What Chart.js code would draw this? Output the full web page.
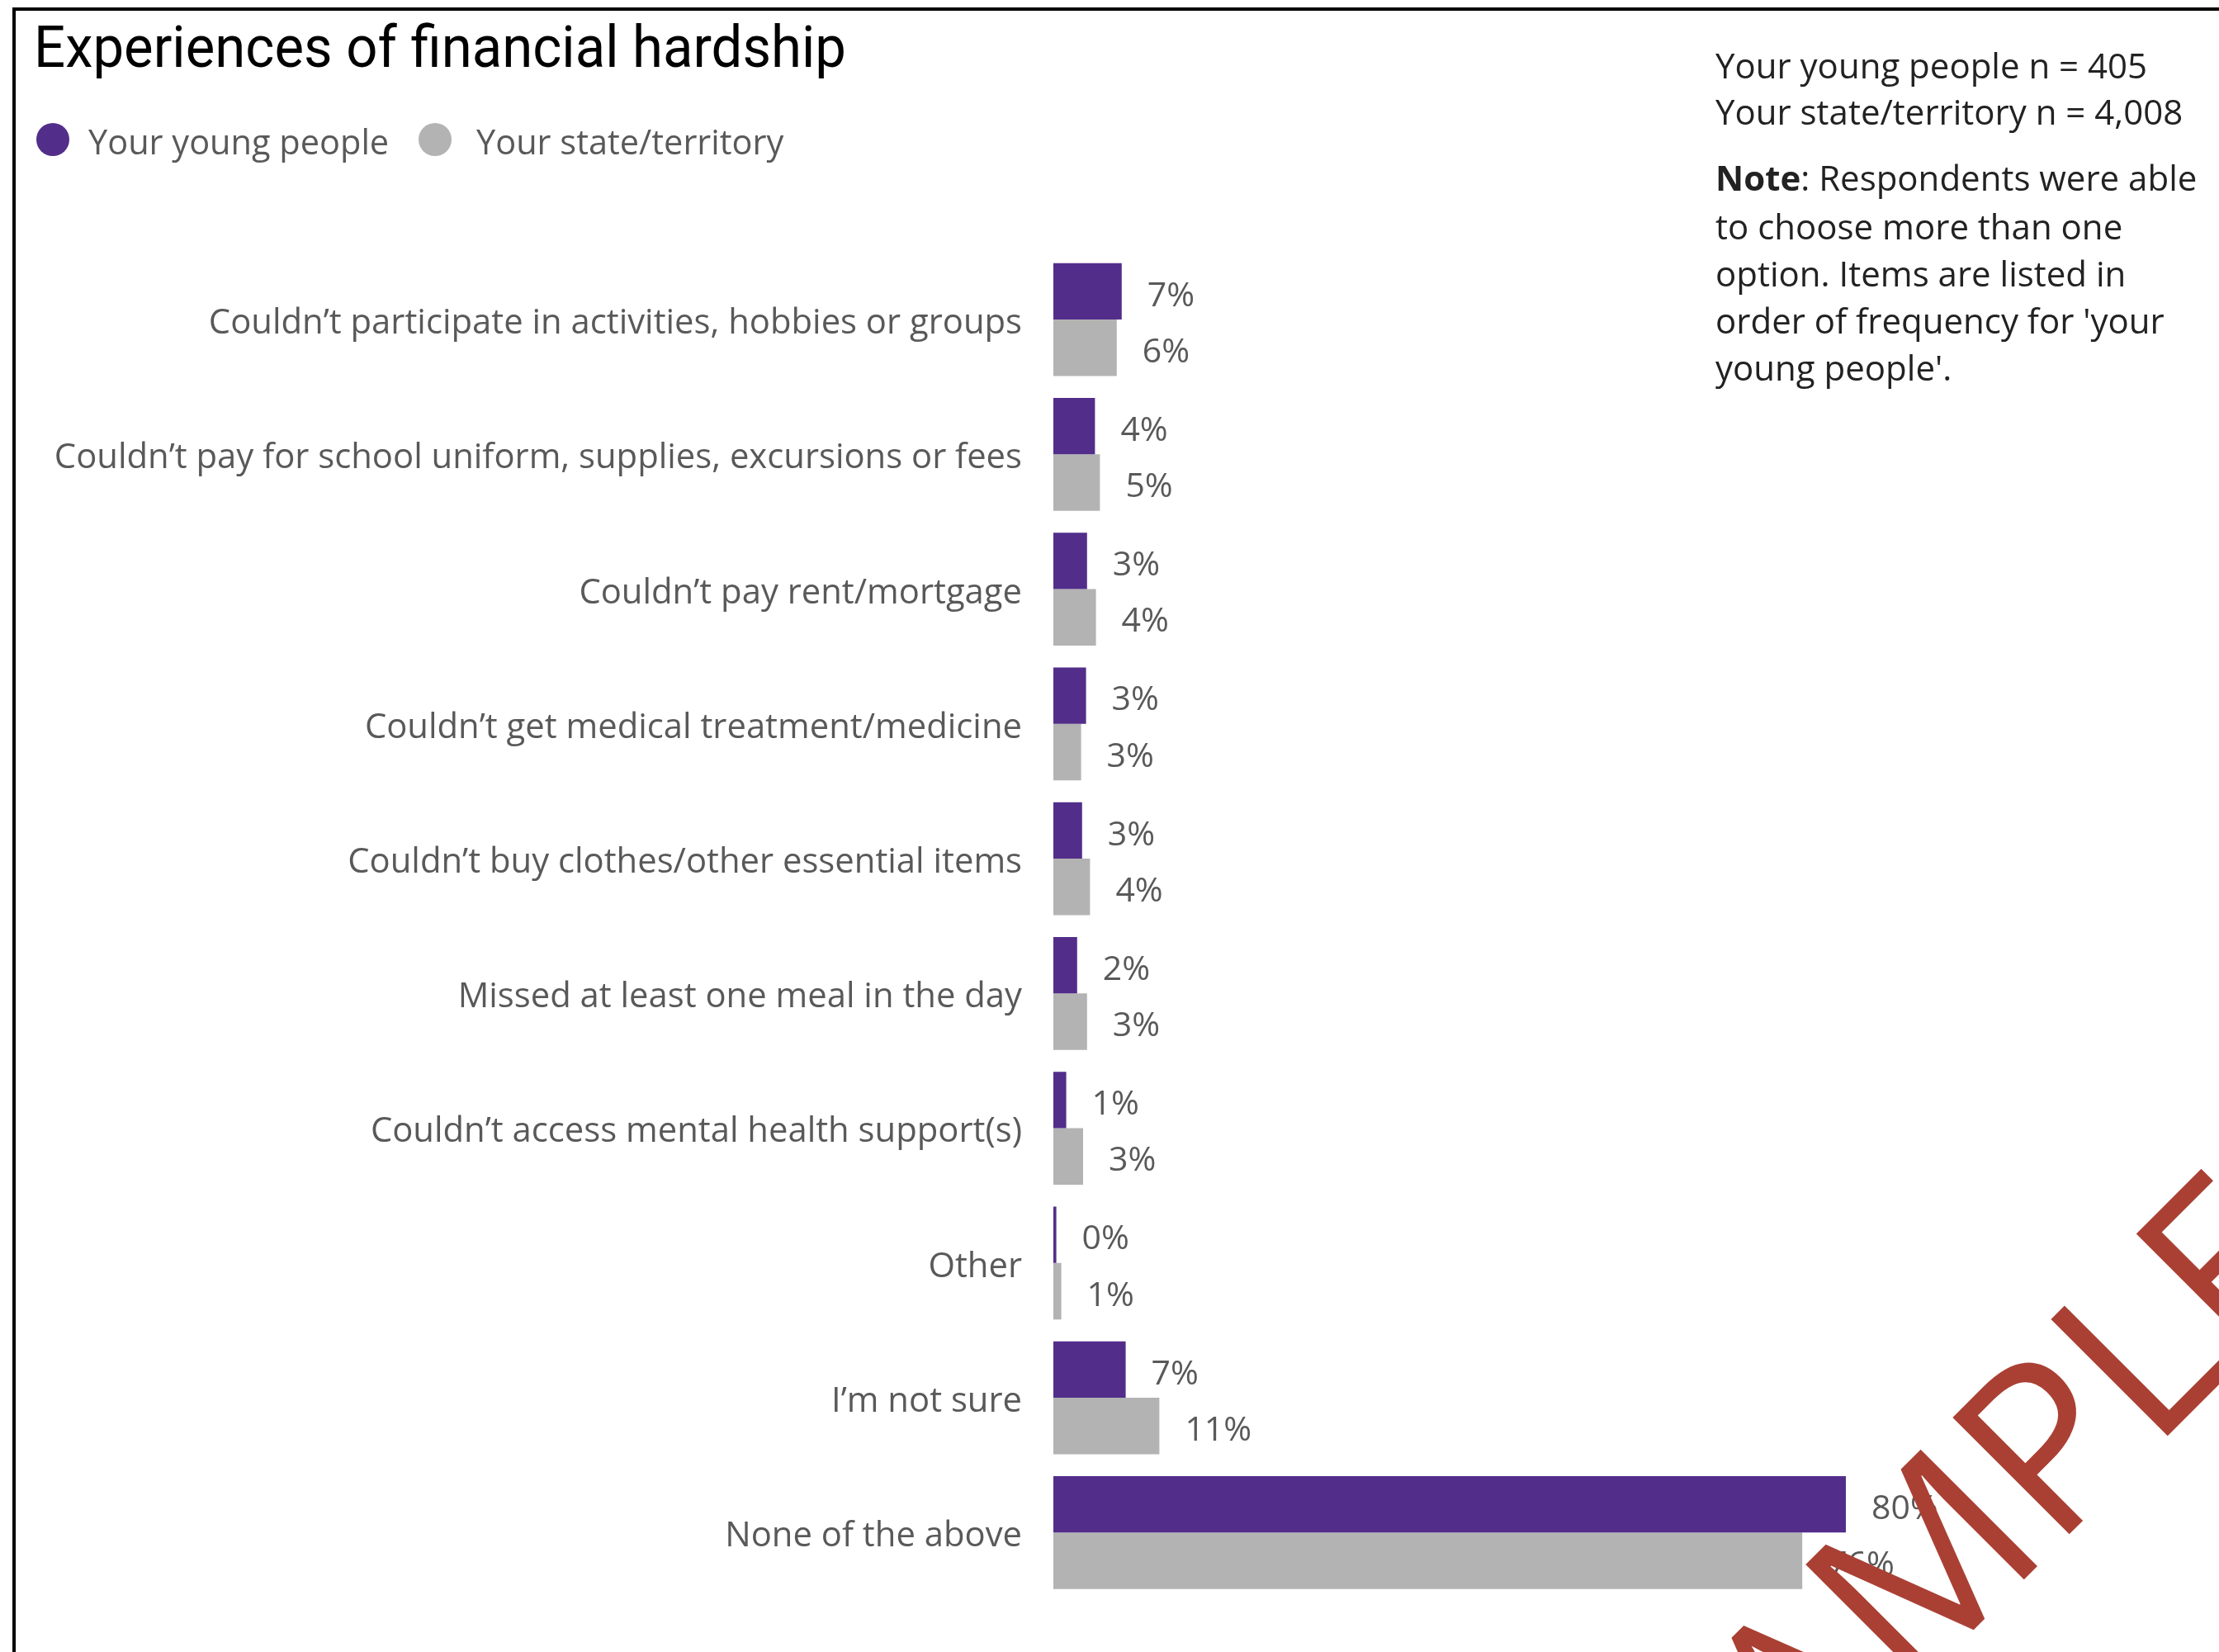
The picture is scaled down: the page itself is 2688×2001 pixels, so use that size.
<!DOCTYPE html>
<html>
<head>
<meta charset="utf-8">
<script src="https://cdn.jsdelivr.net/npm/chart.js@4.4.1/dist/chart.umd.min.js"></script>
<style>
  html, body { margin: 0; padding: 0; background: #ffffff; }
  body { width: 2688px; height: 2001px; overflow: hidden; position: relative; }
  #chart { position: absolute; left: 0; top: 0; width: 2688px; height: 2001px; }
</style>
</head>
<body>
<canvas id="chart" width="2688" height="2001"></canvas>
<script>
// ---------- data ----------
const titleText = "Experiences of financial hardship";
const seriesNames = ["Your young people", "Your state/territory"];
const categories = [
  "Couldn\u2019t participate in activities, hobbies or groups",
  "Couldn\u2019t pay for school uniform, supplies, excursions or fees",
  "Couldn\u2019t pay rent/mortgage",
  "Couldn\u2019t get medical treatment/medicine",
  "Couldn\u2019t buy clothes/other essential items",
  "Missed at least one meal in the day",
  "Couldn\u2019t access mental health support(s)",
  "Other",
  "I\u2019m not sure",
  "None of the above"
];
const youngPeople    = [6.9, 4.2, 3.4, 3.3, 2.9, 2.4, 1.3, 0.3, 7.3, 80.0];
const stateTerritory = [6.4, 4.7, 4.3, 2.8, 3.7, 3.4, 3.0, 0.8, 10.7, 75.6];
const sampleLines = ["Your young people n = 405", "Your state/territory n = 4,008"];
const noteLines = [
  "Respondents were able",
  "to choose more than one",
  "option. Items are listed in",
  "order of frequency for 'your",
  "young people'."
];
const watermarkText = "SAMPLE";

// ---------- styles ----------
const PURPLE = "#522E8A";
const GREY = "#B3B3B3";
const LABEL_GREY = "#595959";
const NOTE_INK = "#222222";

const decorPlugin = {
  id: "decor",
  beforeDraw(chart) {
    const ctx = chart.ctx;
    ctx.save();
    // frame
    ctx.fillStyle = "#000";
    ctx.fillRect(15, 9, 4, 2001);
    ctx.fillRect(15, 9, 2688, 4);
    // title
    ctx.font = '400 71px Roboto';
    ctx.textBaseline = "alphabetic";
    ctx.textAlign = "left";
    const tw = ctx.measureText(titleText).width;
    ctx.save();
    ctx.translate(41, 81);
    ctx.scale(984 / tw, 1);
    ctx.fillStyle = "#000";
    ctx.fillText(titleText, 0, 0);
    ctx.restore();
    // legend
    const legendItems = [
      { cx: 64, tx: 107, color: PURPLE },
      { cx: 527, tx: 577, color: GREY }
    ];
    ctx.font = '41.5px "Open Sans"';
    legendItems.forEach((it, i) => {
      ctx.fillStyle = it.color;
      ctx.beginPath();
      ctx.arc(it.cx, 169, 20, 0, Math.PI * 2);
      ctx.fill();
      ctx.fillStyle = LABEL_GREY;
      ctx.fillText(seriesNames[i], it.tx, 187);
    });
    // notes
    ctx.fillStyle = NOTE_INK;
    ctx.font = '42px "Open Sans"';
    ctx.fillText(sampleLines[0], 2078, 95);
    ctx.fillText(sampleLines[1], 2078, 151);
    const noteY = [231, 290, 347, 404, 461];
    ctx.font = 'bold 42px "Open Sans"';
    const nb = ctx.measureText("Note").width;
    ctx.fillText("Note", 2078, noteY[0]);
    ctx.font = '42px "Open Sans"';
    ctx.fillText(": " + noteLines[0], 2078 + nb, noteY[0]);
    for (let i = 1; i < noteLines.length; i++) {
      ctx.fillText(noteLines[i], 2078, noteY[i]);
    }
    ctx.restore();
  },
  afterDatasetsDraw(chart) {
    const ctx = chart.ctx;
    ctx.save();
    ctx.font = '41px "Open Sans"';
    ctx.fillStyle = LABEL_GREY;
    ctx.textAlign = "left";
    ctx.textBaseline = "middle";
    chart.data.datasets.forEach((ds, di) => {
      const meta = chart.getDatasetMeta(di);
      meta.data.forEach((el, i) => {
        ctx.fillText(Math.round(ds.data[i]) + "%", el.x + 31, el.y + 6);
      });
    });
    ctx.restore();
  },
  afterDraw(chart) {
    const ctx = chart.ctx;
    ctx.save();
    ctx.font = '280px "Open Sans"';
    const wPre = ctx.measureText(watermarkText.slice(0, 4)).width;
    const a = -Math.PI / 4;
    const ux = Math.cos(a), uy = Math.sin(a);
    const ox = 2622 - (wPre + 22) * ux;
    const oy = 1743 - (wPre + 22) * uy;
    ctx.translate(ox, oy);
    ctx.rotate(a);
    ctx.fillStyle = "#AA4034";
    ctx.textBaseline = "alphabetic";
    ctx.fillText(watermarkText, 0, 0);
    ctx.restore();
  }
};

function build() {
  new Chart(document.getElementById("chart"), {
    type: "bar",
    data: {
      labels: categories,
      datasets: [
        { label: seriesNames[0], data: youngPeople, backgroundColor: PURPLE, borderWidth: 0,
          categoryPercentage: 0.838, barPercentage: 1.0 },
        { label: seriesNames[1], data: stateTerritory, backgroundColor: GREY, borderWidth: 0,
          categoryPercentage: 0.838, barPercentage: 1.0 }
      ]
    },
    options: {
      indexAxis: "y",
      responsive: false,
      animation: false,
      devicePixelRatio: 1,
      layout: { padding: { top: 305.5, bottom: 60.5, left: 0, right: 212 } },
      plugins: { legend: { display: false }, title: { display: false }, tooltip: { enabled: false } },
      scales: {
        x: { display: false, min: 0, max: 100 },
        y: {
          afterFit(scale) { scale.width = 1276; },
          grid: { display: false, drawTicks: false },
          border: { display: false },
          ticks: { padding: 38, labelOffset: 5, color: LABEL_GREY, autoSkip: false,
                   font: { family: '"Open Sans"', size: 41.8 } }
        }
      }
    },
    plugins: [decorPlugin]
  });
}

Promise.all([
  document.fonts.load('41px "Open Sans"'),
  document.fonts.load('bold 41px "Open Sans"'),
  document.fonts.load('400 70px Roboto')
]).then(build, build);
</script>
</body>
</html>
